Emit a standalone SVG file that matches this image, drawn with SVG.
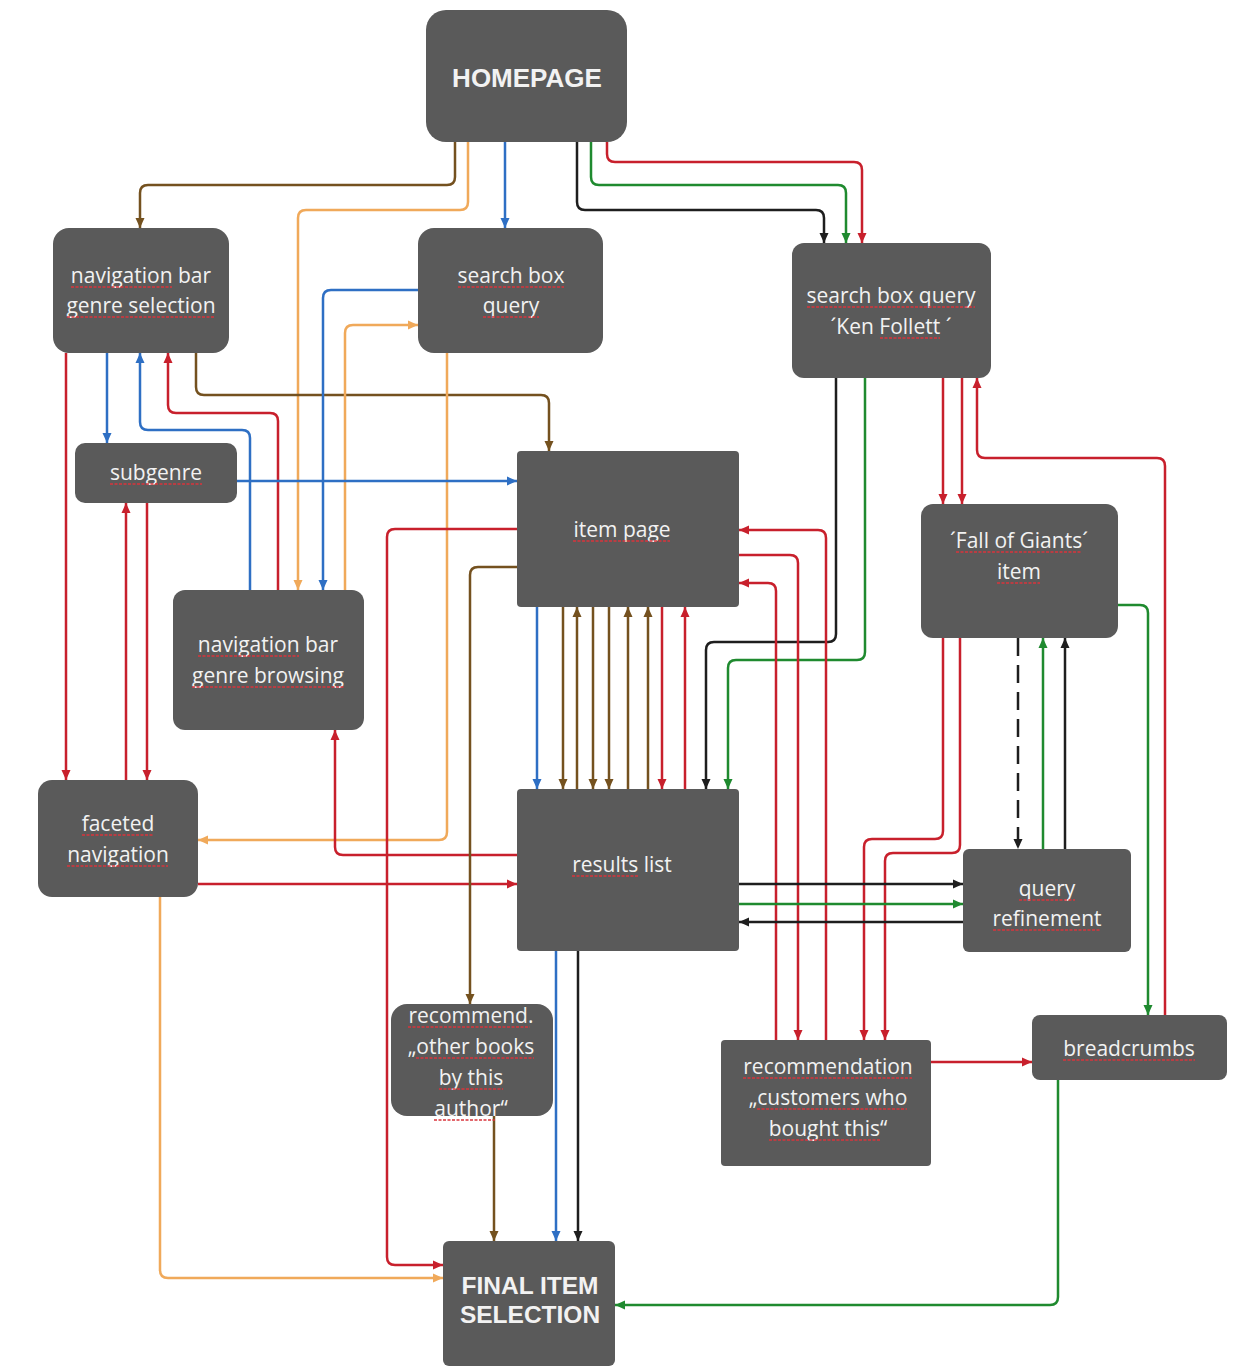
<svg xmlns="http://www.w3.org/2000/svg" width="1233" height="1366" viewBox="0 0 1233 1366">
<style>
.n{fill:#5a5a5a}
.t{font-family:"Open Sans","Noto Sans",sans-serif;font-size:21px;fill:#f2f2f2;text-anchor:middle}
.b{font-family:"Liberation Sans",Arial,sans-serif;font-weight:bold;fill:#f2f2f2;text-anchor:middle}
.u{fill:none;stroke:#d9343c;stroke-width:1.6;stroke-dasharray:3 1.5}
.c{fill:none;stroke-width:2.5}
.r{stroke:#c8202c;marker-end:url(#aR)}
.br{stroke:#74511f;marker-end:url(#aBr)}
.o{stroke:#f0a95a;marker-end:url(#aO)}
.bl{stroke:#2e6fc4;marker-end:url(#aB)}
.g{stroke:#1f8a2f;marker-end:url(#aG)}
.k{stroke:#1e1e1e;marker-end:url(#aK)}
.d{stroke-dasharray:18 9}
</style>
<defs>
<marker id="aR" viewBox="0 0 10 10" refX="10" refY="5" markerWidth="11" markerHeight="10" markerUnits="userSpaceOnUse" orient="auto"><path d="M0,0.5L10,5L0,9.5z" fill="#c8202c"/></marker>
<marker id="aBr" viewBox="0 0 10 10" refX="10" refY="5" markerWidth="11" markerHeight="10" markerUnits="userSpaceOnUse" orient="auto"><path d="M0,0.5L10,5L0,9.5z" fill="#74511f"/></marker>
<marker id="aO" viewBox="0 0 10 10" refX="10" refY="5" markerWidth="11" markerHeight="10" markerUnits="userSpaceOnUse" orient="auto"><path d="M0,0.5L10,5L0,9.5z" fill="#f0a95a"/></marker>
<marker id="aB" viewBox="0 0 10 10" refX="10" refY="5" markerWidth="11" markerHeight="10" markerUnits="userSpaceOnUse" orient="auto"><path d="M0,0.5L10,5L0,9.5z" fill="#2e6fc4"/></marker>
<marker id="aG" viewBox="0 0 10 10" refX="10" refY="5" markerWidth="11" markerHeight="10" markerUnits="userSpaceOnUse" orient="auto"><path d="M0,0.5L10,5L0,9.5z" fill="#1f8a2f"/></marker>
<marker id="aK" viewBox="0 0 10 10" refX="10" refY="5" markerWidth="11" markerHeight="10" markerUnits="userSpaceOnUse" orient="auto"><path d="M0,0.5L10,5L0,9.5z" fill="#1e1e1e"/></marker>
</defs>
<rect width="1233" height="1366" fill="#ffffff"/>
<g id="connectors">
<path class="c br" d="M455,142V177Q455,185 447,185H148Q140,185 140,193V228"/>
<path class="c o" d="M468,142V202Q468,210 460,210H306Q298,210 298,218V590"/>
<path class="c bl" d="M505,142V228"/>
<path class="c k" d="M577,142V202Q577,210 585,210H816Q824,210 824,218V243"/>
<path class="c g" d="M591,142V177Q591,185 599,185H838Q846,185 846,193V243"/>
<path class="c r" d="M607,142V154Q607,162 615,162H854Q862,162 862,170V243"/>
<path class="c bl" d="M107,353V443"/>
<path class="c bl" d="M250,590V438Q250,430 242,430H148Q140,430 140,422V353"/>
<path class="c r" d="M278,590V421Q278,413 270,413H176Q168,413 168,405V353"/>
<path class="c r" d="M66,353V780"/>
<path class="c br" d="M196,353V387Q196,395 204,395H541Q549,395 549,403V451"/>
<path class="c bl" d="M418,290H331Q323,290 323,298V590"/>
<path class="c o" d="M345,590V333Q345,325 353,325H418"/>
<path class="c o" d="M447,353V832Q447,840 439,840H198"/>
<path class="c bl" d="M237,481H517"/>
<path class="c r" d="M126,780V503"/>
<path class="c r" d="M147,503V780"/>
<path class="c r" d="M198,884H517"/>
<path class="c o" d="M160,897V1270Q160,1278 168,1278H443"/>
<path class="c r" d="M517,855H343Q335,855 335,847V730"/>
<path class="c r" d="M517,529H395Q387,529 387,537V1257Q387,1265 395,1265H443"/>
<path class="c br" d="M517,567H478Q470,567 470,575V1004"/>
<path class="c bl" d="M537,607V789"/>
<path class="c br" d="M563,607V789"/>
<path class="c br" d="M577,789V607"/>
<path class="c br" d="M593,607V789"/>
<path class="c br" d="M609,607V789"/>
<path class="c br" d="M628,789V607"/>
<path class="c br" d="M648,789V607"/>
<path class="c r" d="M662,607V789"/>
<path class="c r" d="M685,789V607"/>
<path class="c k" d="M836,378V634Q836,642 828,642H714Q706,642 706,650V789"/>
<path class="c g" d="M865,378V652Q865,660 857,660H736Q728,660 728,668V789"/>
<path class="c r" d="M943,378V504"/>
<path class="c r" d="M962,378V504"/>
<path class="c r" d="M1165,1015V466Q1165,458 1157,458H985Q977,458 977,450V378"/>
<path class="c r" d="M826,1040V538Q826,530 818,530H739"/>
<path class="c r" d="M739,555H790Q798,555 798,563V1040"/>
<path class="c r" d="M776,1040V591Q776,583 768,583H739"/>
<path class="c r" d="M943,638V831Q943,839 935,839H872Q864,839 864,847V1040"/>
<path class="c r" d="M960,638V845Q960,853 952,853H893Q885,853 885,861V1040"/>
<path class="c g" d="M1118,605H1140Q1148,605 1148,613V1015"/>
<path class="c k d" d="M1018,638V849"/>
<path class="c g" d="M1043,849V638"/>
<path class="c k" d="M1065,849V638"/>
<path class="c k" d="M739,884H963"/>
<path class="c g" d="M739,904H963"/>
<path class="c k" d="M963,922H739"/>
<path class="c bl" d="M556,951V1241"/>
<path class="c k" d="M578,951V1241"/>
<path class="c br" d="M494,1116V1241"/>
<path class="c r" d="M931,1062H1032"/>
<path class="c g" d="M1058,1080V1297Q1058,1305 1050,1305H615"/>
</g>
<g id="homepage"><rect class="n" x="426" y="10" width="201" height="132" rx="20"/><text class="b" x="527" y="87" font-size="26">HOMEPAGE</text></g>
<g id="nav-genre-selection"><rect class="n" x="53" y="228" width="176" height="125" rx="16"/><text class="t" x="141" y="283">navigation bar</text><text class="t" x="141" y="313">genre selection</text><path class="u" d="M71,287H172M67,317H215"/></g>
<g id="search-box-query"><rect class="n" x="418" y="228" width="185" height="125" rx="16"/><text class="t" x="511" y="283">search box</text><text class="t" x="511" y="313">query</text><path class="u" d="M458,287H564M483,317H539"/></g>
<g id="search-ken-follett"><rect class="n" x="792" y="243" width="199" height="135" rx="12"/><text class="t" x="891" y="303">search box query</text><text class="t" x="891" y="334">´Ken Follett ´</text><path class="u" d="M807,307H975M880,338H940"/></g>
<g id="subgenre"><rect class="n" x="75" y="443" width="162" height="60" rx="10"/><text class="t" x="156" y="480">subgenre</text><path class="u" d="M110,484H202"/></g>
<g id="item-page"><rect class="n" x="517" y="451" width="222" height="156" rx="4"/><text class="t" x="622" y="537">item page</text><path class="u" d="M573,541H670"/></g>
<g id="fall-of-giants"><rect class="n" x="921" y="504" width="197" height="134" rx="12"/><text class="t" x="1019" y="548">´Fall of Giants´</text><text class="t" x="1019" y="579">item</text><path class="u" d="M956,552H1082M997,583H1040"/></g>
<g id="nav-genre-browsing"><rect class="n" x="173" y="590" width="191" height="140" rx="12"/><text class="t" x="268" y="652">navigation bar</text><text class="t" x="268" y="683">genre browsing</text><path class="u" d="M198,656H299M192,687H344"/></g>
<g id="faceted-navigation"><rect class="n" x="38" y="780" width="160" height="117" rx="14"/><text class="t" x="118" y="831">faceted</text><text class="t" x="118" y="862">navigation</text><path class="u" d="M82,835H154M67,866H168"/></g>
<g id="results-list"><rect class="n" x="517" y="789" width="222" height="162" rx="4"/><text class="t" x="622" y="872">results list</text><path class="u" d="M572,876H639"/></g>
<g id="query-refinement"><rect class="n" x="963" y="849" width="168" height="103" rx="6"/><text class="t" x="1047" y="896">query</text><text class="t" x="1047" y="926">refinement</text><path class="u" d="M1019,900H1075M993,930H1101"/></g>
<g id="rec-other-books"><rect class="n" x="391" y="1004" width="162" height="112" rx="16"/><text class="t" x="471" y="1023">recommend.</text><text class="t" x="471" y="1054">„other books</text><text class="t" x="471" y="1085">by this</text><text class="t" x="471" y="1116">author“</text><path class="u" d="M408,1027H530M416,1058H534M439,1089H503M434,1120H495"/></g>
<g id="rec-customers"><rect class="n" x="721" y="1040" width="210" height="126" rx="4"/><text class="t" x="828" y="1074">recommendation</text><text class="t" x="828" y="1105">„customers who</text><text class="t" x="828" y="1136">bought this“</text><path class="u" d="M743,1078H912M757,1109H907M769,1140H880"/></g>
<g id="breadcrumbs"><rect class="n" x="1032" y="1015" width="195" height="65" rx="8"/><text class="t" x="1129" y="1056">breadcrumbs</text><path class="u" d="M1063,1060H1195"/></g>
<g id="final-item-selection"><rect class="n" x="443" y="1241" width="172" height="125" rx="6"/><text class="b" x="530" y="1294" font-size="24.5">FINAL ITEM</text><text class="b" x="530" y="1323" font-size="24.5">SELECTION</text></g>
</svg>
